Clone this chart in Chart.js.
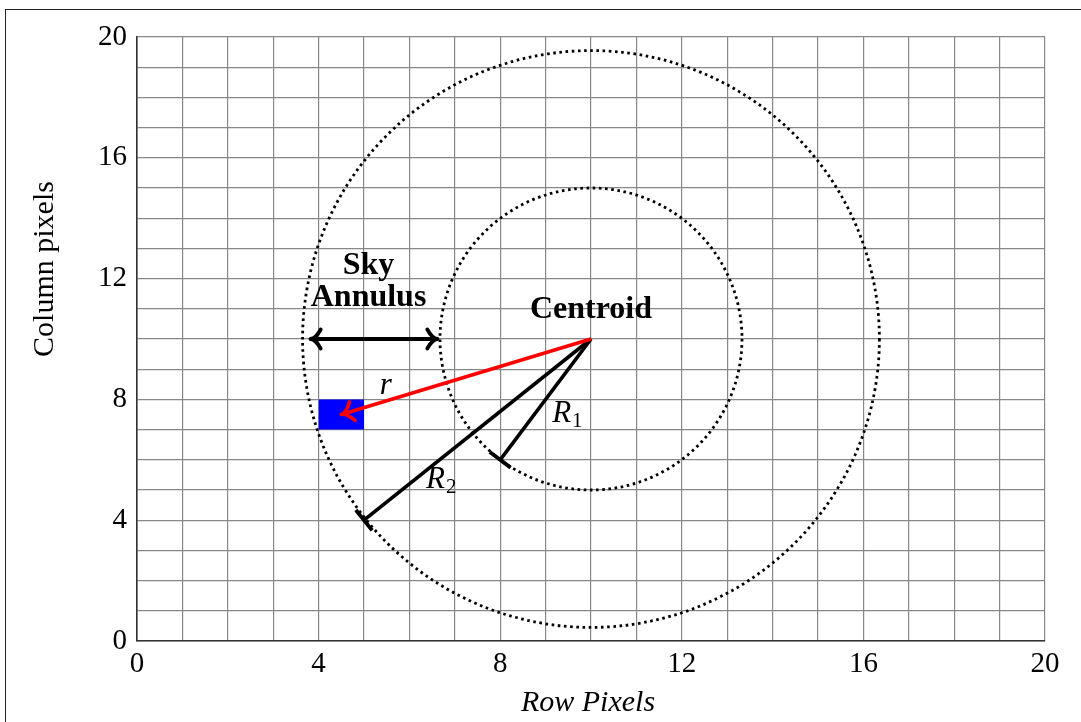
<!DOCTYPE html>
<html>
<head>
<meta charset="utf-8">
<script src="https://cdn.jsdelivr.net/npm/chart.js@4.4.0/dist/chart.umd.min.js"></script>
<style>
  html, body { margin: 0; padding: 0; background: #fff; overflow: hidden; }
  #marco { position: absolute; left: 5px; top: 9px; width: 1200px; height: 900px;
           border: 1.5px solid #222; box-sizing: border-box; }
  #lienzo { position: absolute; left: 0; top: 0; }
</style>
</head>
<body>
<div id="marco"></div>
<canvas id="lienzo" width="1081" height="722"></canvas>
<script>
// ------------------------------------------------------------
//  Datos (en unidades de píxel de la imagen)
// ------------------------------------------------------------
const TICKS      = [0, 4, 8, 12, 16, 20];
const CENTROIDE  = [10, 10];
const RADIOS     = [5, 9.55];          // radios en unidades del eje y
const FIN_R1     = [8, 6];
const FIN_R2     = [5, 4];
const FIN_r      = [4.5, 7.5];
const FLECHA_ANILLO_X = [3.82, 6.62];  // a la altura y = 10
const CAJA_X     = [4, 5];
const CAJA_Y     = [7, 8];

// etiquetas: texto, x, y, estilo
const TEXTOS = [
  ['Sky',      5.1,  12.42, 'bold'],
  ['Annulus',  5.1,  11.38, 'bold'],
  ['Centroid', 10.0, 10.96, 'bold'],
  ['r',        5.48, 8.45,  'italic']
];
const SUBINDICES = [
  ['R', '1', 9.43, 7.52],
  ['R', '2', 6.65, 5.35]
];

const FUENTE = '"Liberation Serif", "DejaVu Serif", serif';

function radioPx(chart, r) {
  const y = chart.scales.y;
  return y.getPixelForValue(0) - y.getPixelForValue(r);
}

function punta(ctx, x0, y0, x1, y1, largo, ang) {
  const a = Math.atan2(y1 - y0, x1 - x0);
  ctx.beginPath();
  ctx.moveTo(x1 - largo * Math.cos(a - ang), y1 - largo * Math.sin(a - ang));
  ctx.quadraticCurveTo(x1 - largo * 0.35 * Math.cos(a), y1 - largo * 0.35 * Math.sin(a), x1, y1);
  ctx.quadraticCurveTo(x1 - largo * 0.35 * Math.cos(a), y1 - largo * 0.35 * Math.sin(a),
                       x1 - largo * Math.cos(a + ang), y1 - largo * Math.sin(a + ang));
  ctx.stroke();
}

function tope(ctx, x0, y0, x1, y1, medio) {
  const a = Math.atan2(y1 - y0, x1 - x0) + Math.PI / 2;
  ctx.beginPath();
  ctx.moveTo(x1 - medio * Math.cos(a), y1 - medio * Math.sin(a));
  ctx.lineTo(x1 + medio * Math.cos(a), y1 + medio * Math.sin(a));
  ctx.stroke();
}

// ------------------------------------------------------------
//  Plugin: punteado de círculos, flechas, topes y textos
// ------------------------------------------------------------
const extras = {
  id: 'extras',
  beforeDatasetDraw(chart, args) {
    if (chart.data.datasets[args.index].punteado) {
      chart.ctx.save();
      chart.ctx.setLineDash([2.6, 3.6]);
    }
  },
  afterDatasetDraw(chart, args) {
    if (chart.data.datasets[args.index].punteado) chart.ctx.restore();
  },
  afterDatasetsDraw(chart) {
    const ctx = chart.ctx, sx = chart.scales.x, sy = chart.scales.y;
    const px = v => sx.getPixelForValue(v), py = v => sy.getPixelForValue(v);
    const cx = px(CENTROIDE[0]), cy = py(CENTROIDE[1]);
    ctx.save();
    ctx.lineCap = 'round';
    ctx.lineJoin = 'round';

    // flecha roja r
    ctx.strokeStyle = '#ff0000';
    ctx.lineWidth = 3.6;
    punta(ctx, cx, cy, px(FIN_r[0]), py(FIN_r[1]), 15, 0.7);

    // flecha doble del anillo
    ctx.strokeStyle = '#000';
    ctx.lineWidth = 3.8;
    const ya = py(CENTROIDE[1]);
    punta(ctx, px(FLECHA_ANILLO_X[1]), ya, px(FLECHA_ANILLO_X[0]), ya, 14, 0.75);
    punta(ctx, px(FLECHA_ANILLO_X[0]), ya, px(FLECHA_ANILLO_X[1]), ya, 14, 0.75);

    // topes de R1 y R2
    ctx.lineCap = 'butt';
    ctx.lineWidth = 3.8;
    tope(ctx, cx, cy, px(FIN_R1[0]), py(FIN_R1[1]), 13);
    tope(ctx, cx, cy, px(FIN_R2[0]), py(FIN_R2[1]), 13);

    // textos
    ctx.fillStyle = '#000';
    ctx.textAlign = 'center';
    ctx.textBaseline = 'middle';
    TEXTOS.forEach(([t, x, y, estilo]) => {
      ctx.font = (estilo === 'bold' ? 'bold 32px ' : 'italic 31px ') + FUENTE;
      ctx.fillText(t, px(x), py(y));
    });
    SUBINDICES.forEach(([t, s, x, y]) => {
      ctx.font = 'italic 31px ' + FUENTE;
      ctx.textAlign = 'right';
      ctx.fillText(t, px(x) + 6, py(y));
      ctx.font = '21px ' + FUENTE;
      ctx.textAlign = 'left';
      ctx.fillText(s, px(x) + 7, py(y) + 8);
    });

    // títulos de ejes
    ctx.textAlign = 'center';
    ctx.font = 'italic 30px ' + FUENTE;
    ctx.fillText('Row Pixels', 588, 703);
    ctx.translate(45, 269);
    ctx.rotate(-Math.PI / 2);
    ctx.font = '30px ' + FUENTE;
    ctx.fillText('Column pixels', 0, 0);
    ctx.restore();
  }
};

// ------------------------------------------------------------
//  Gráfica
// ------------------------------------------------------------
const linea = (color, ancho, desde, hasta) => ({
  showLine: true,
  data: [{ x: desde[0], y: desde[1] }, { x: hasta[0], y: hasta[1] }],
  borderColor: color,
  borderWidth: ancho,
  pointRadius: 0,
  fill: false
});

const ejeBase = {
  type: 'linear',
  min: 0,
  max: 20,
  grid: { color: '#888', lineWidth: 1.2, drawTicks: false },
  border: { color: '#333', width: 1.6 },
  ticks: {
    stepSize: 1,
    autoSkip: false,
    maxRotation: 0,
    color: '#000',
    font: { family: FUENTE, size: 29 },
    callback: v => (TICKS.includes(v) ? String(v) : '')
  }
};

new Chart(document.getElementById('lienzo'), {
  type: 'scatter',
  data: {
    datasets: [
      linea('#ff0000', 3.6, CENTROIDE, FIN_r),
      linea('#000', 3.8, [FLECHA_ANILLO_X[0], CENTROIDE[1]], [FLECHA_ANILLO_X[1], CENTROIDE[1]]),
      linea('#000', 3.6, CENTROIDE, FIN_R1),
      linea('#000', 3.6, CENTROIDE, FIN_R2),
      {
        punteado: true,
        data: RADIOS.map(() => ({ x: CENTROIDE[0], y: CENTROIDE[1] })),
        pointStyle: 'circle',
        pointRadius: c => radioPx(c.chart, RADIOS[c.dataIndex]),
        pointBackgroundColor: 'rgba(0,0,0,0)',
        pointBorderColor: '#000',
        pointBorderWidth: 2.8
      },
      {
        showLine: true,
        data: [{ x: CAJA_X[0], y: CAJA_Y[1] }, { x: CAJA_X[1], y: CAJA_Y[1] }],
        fill: { value: CAJA_Y[0] },
        backgroundColor: '#0000ff',
        borderColor: '#0000ff',
        borderWidth: 0,
        pointRadius: 0
      }
    ]
  },
  options: {
    responsive: false,
    animation: false,
    events: [],
    layout: { padding: { top: 37, right: 36, left: 0, bottom: 0 } },
    plugins: { legend: { display: false }, tooltip: { enabled: false } },
    scales: {
      x: { ...ejeBase, ticks: { ...ejeBase.ticks, padding: 6 },
           afterFit: s => { s.height = 81; } },
      y: { ...ejeBase, ticks: { ...ejeBase.ticks, padding: 10 },
           afterFit: s => { s.width = 137; } }
    }
  },
  plugins: [extras]
});
</script>
</body>
</html>
